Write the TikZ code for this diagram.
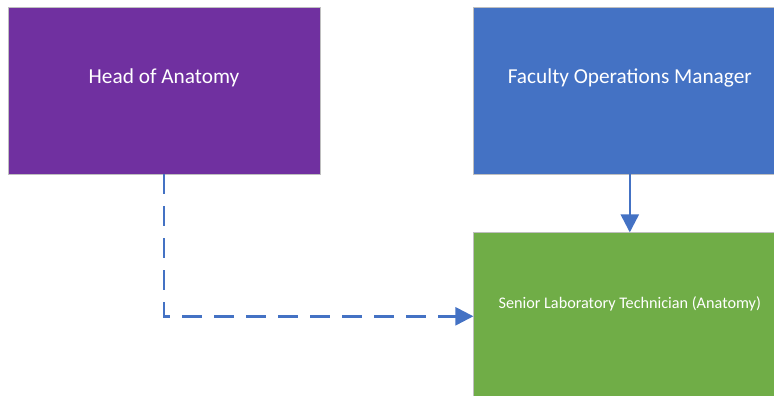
\documentclass[tikz,border=0pt]{standalone}
\usepackage{fontspec}
\setmainfont{Carlito}
\usetikzlibrary{positioning,arrows.meta}
\definecolor{headpurple}{HTML}{7030A0}
\definecolor{opsblue}{HTML}{4472C4}
\definecolor{techgreen}{HTML}{70AD47}
\definecolor{boxline}{HTML}{BFBFBF}
\tikzset{orgbox/.style={rectangle,draw=boxline,line width=0.8pt,inner sep=0pt,
                        minimum width=312pt,minimum height=167pt},
         boxtext/.style={text=white,yshift=12.5pt,font=\fontsize{21.3}{25}\selectfont},
         smalltext/.style={font=\fontsize{16.2}{19}\selectfont},
         link/.style={draw=opsblue,line width=2.5pt,-{Triangle[length=18pt,width=18pt]}},
         dotted link/.style={dash pattern=on 20pt off 12pt}
         }

\begin{document}
\begin{tikzpicture}[x=1pt,y=1pt] % anatomy reporting lines
        \path[use as bounding box,clip] (0,0) rectangle (774,-396);
        \node[orgbox,fill=headpurple] (head) at (164,-90.5) [label={[boxtext]center:Head of Anatomy}] {};
        \node[orgbox,fill=opsblue] (fom) [right=153pt of head] [label={[boxtext]center:Faculty Operations Manager}] {};
        \node[orgbox,fill=techgreen] (tech) [below=58pt of fom] [label={[boxtext,smalltext]center:Senior Laboratory Technician (Anatomy)}] {};
        \draw[link] (fom) -- (tech);
        \draw[link,dotted link] (head) |- (tech);
     \end{tikzpicture}
\end{document}
